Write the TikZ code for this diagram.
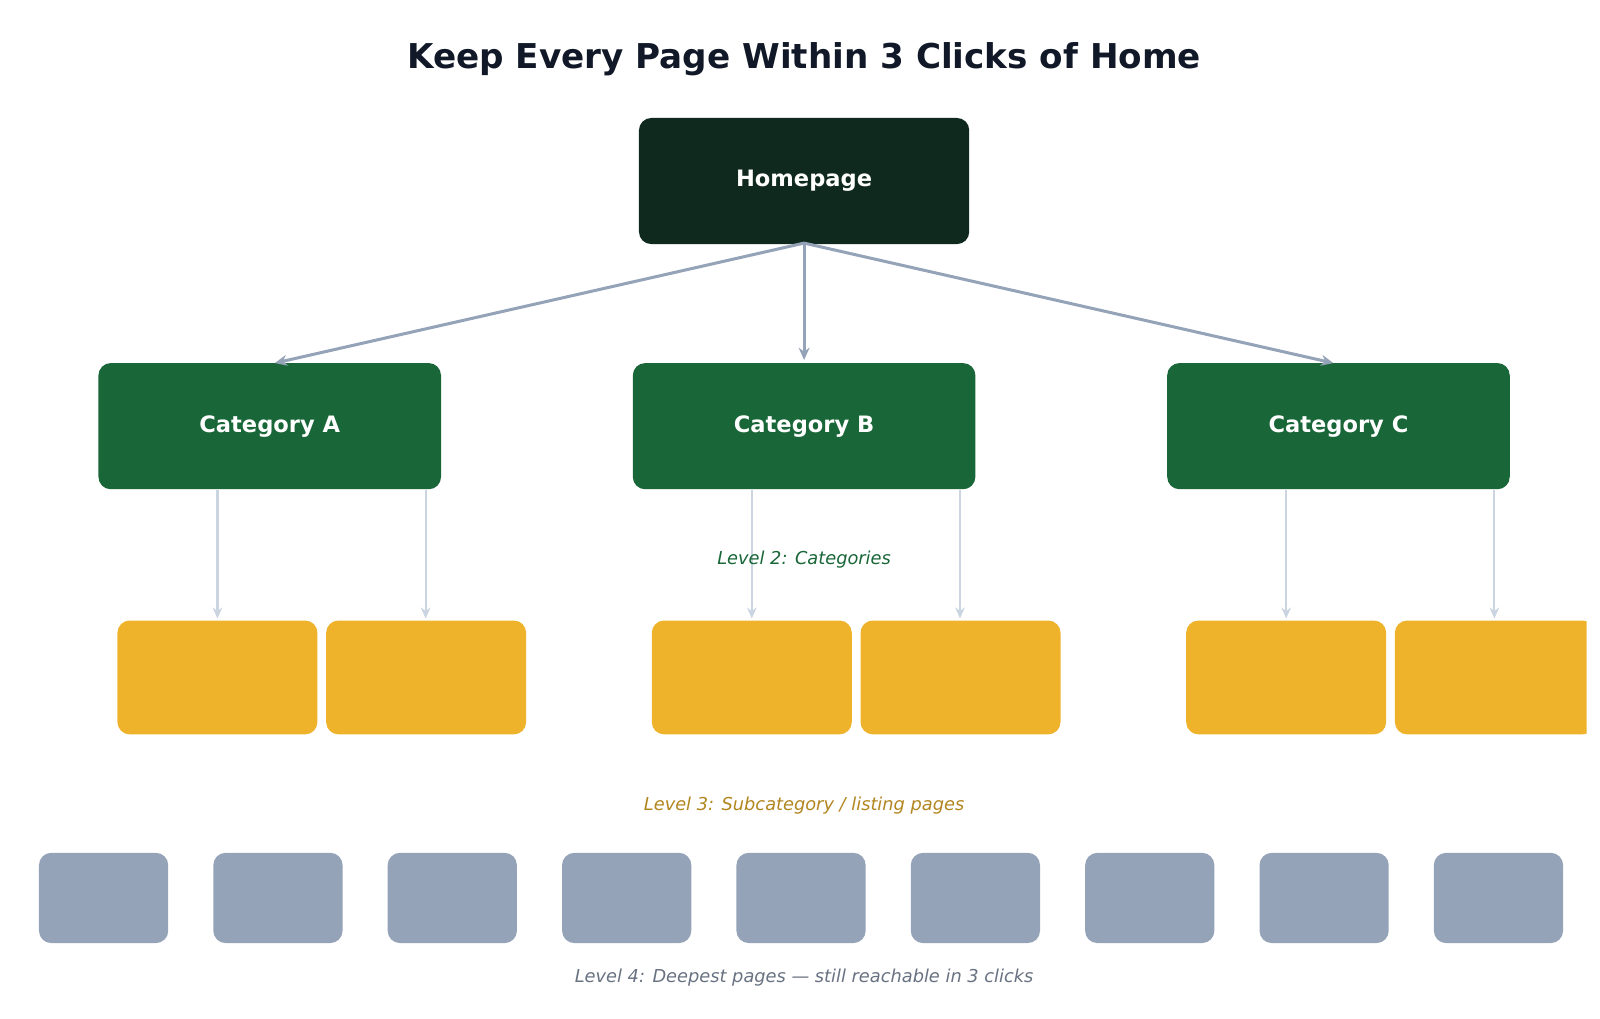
\documentclass[tikz,border=0pt]{standalone}
\usepackage{fontspec}
\setmainfont{DejaVu Sans}
\begin{document}
\begin{tikzpicture}[x=0.75pt,y=-0.75pt,
  home/.style={fill=homec,rounded corners=9pt,minimum width=241.5pt,minimum height=92.25pt,text=white,font=\bfseries\fontsize{16.5}{20}\selectfont},
  cat/.style={fill=catc,rounded corners=9pt,minimum width=250.5pt,minimum height=92.25pt,text=white,font=\bfseries\fontsize{16.5}{20}\selectfont},
  sub/.style={fill=subc,rounded corners=9pt,minimum width=146.25pt,minimum height=83.25pt},
  deep/.style={fill=deepc,rounded corners=9pt,minimum width=94.5pt,minimum height=66pt},
  main/.style={draw=deepc,line width=2.2pt,-{Stealth[length=9pt,width=8pt]}},
  thin/.style={draw=lightc,line width=1.6pt,-{Stealth[length=8pt,width=7pt]}},
  lbl/.style={font=\itshape\fontsize{13}{16}\selectfont}]
\usetikzlibrary{arrows.meta}
\definecolor{homec}{HTML}{10291E}
\definecolor{catc}{HTML}{196638}
\definecolor{subc}{HTML}{EEB32A}
\definecolor{deepc}{HTML}{94A3B8}
\definecolor{lightc}{HTML}{CBD5E1}
\definecolor{titlec}{HTML}{111827}
\useasboundingbox[fill=white] (0,0) rectangle (1560,993);
\node[font=\bfseries\fontsize{25}{29}\selectfont,text=titlec] (title) at (784,58) {Keep Every Page Within 3 Clicks of Home};
\node[home] (home) at (784,176.5) {Homepage};
\node[cat] (A) at (263,415.5) {Category A};
\node[cat] (B) at (784,415.5) {Category B};
\node[cat] (C) at (1305,415.5) {Category C};
\coordinate (hb) at (784,237);
\draw[main] (hb) -- (268,354);
\draw[main] (hb) -- (784,351);
\draw[main] (hb) -- (1300,354);
\begin{scope}
\clip (0,0) rectangle (1547,993);
\foreach \n/\x in {a1/212,a2/415.5,b1/733,b2/936.5,c1/1254,c2/1457.5}{
  \node[sub] (\n) at (\x,660.5) {};
}
\end{scope}
\foreach \p/\n/\x in {A/a1/212,A/a2/415,B/b1/733,B/b2/936,C/c1/1254,C/c2/1457}{
  \coordinate (s\n) at (\x,478);
  \coordinate (e\n) at (\x,603);
  \draw[thin] (s\n) -- (e\n);
}
\foreach \i in {0,...,8}{
  \node[deep] (d\i) at ({101+170*\i},875.5) {};
}
\node[lbl,text=catc] (l2) at (784,546) {Level 2: Categories};
\node[lbl,text=subc!75!black] (l3) at (784,785) {Level 3: Subcategory / listing pages};
\node[lbl,text=deepc!70!black] (l4) at (784,953) {Level 4: Deepest pages — still reachable in 3 clicks};
\end{tikzpicture}
\end{document}
